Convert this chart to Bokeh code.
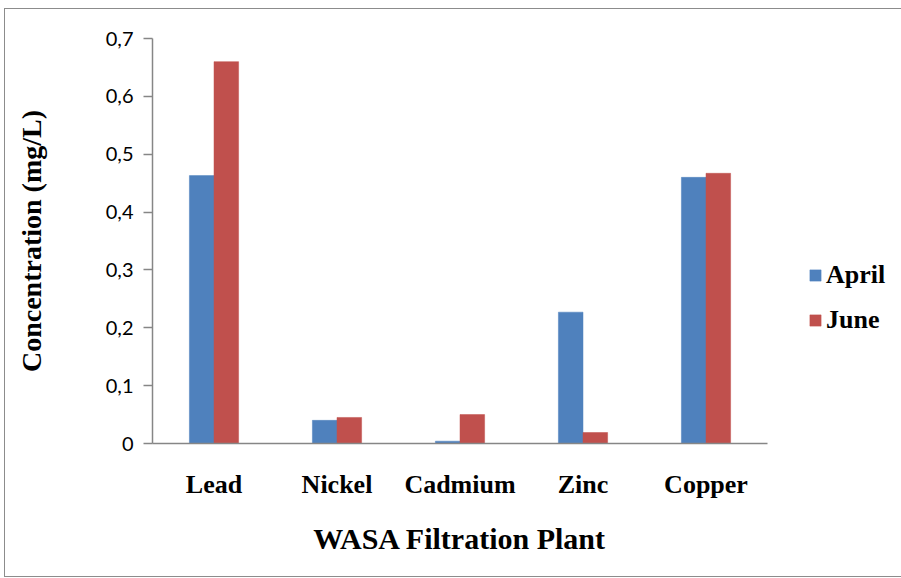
from bokeh.plotting import figure
from bokeh.models import ColumnDataSource, FactorRange, Range1d, FixedTicker, Legend, LegendItem
from bokeh.transform import dodge
from bokeh.embed import file_html
from bokeh.resources import INLINE

categories = ["Lead", "Nickel", "Cadmium", "Zinc", "Copper"]
april = [0.463, 0.040, 0.004, 0.227, 0.460]
june = [0.660, 0.045, 0.050, 0.019, 0.467]
y_ticks = [0.0, 0.1, 0.2, 0.3, 0.4, 0.5, 0.6, 0.7]
y_tick_labels = ["0", "0,1", "0,2", "0,3", "0,4", "0,5", "0,6", "0,7"]

source = ColumnDataSource(data=dict(cat=categories, april=april, june=june))

p = figure(
    x_range=FactorRange(*categories, range_padding=0),
    y_range=Range1d(0, 0.7),
    frame_width=615, frame_height=405,
    output_backend="svg", toolbar_location=None,
    min_border_left=147, min_border_right=133, min_border_top=29, min_border_bottom=133,
)
p.margin = (8, 0, 0, 4)
p.styles = {"border": "1px solid #8c8c8c"}
p.outline_line_color = None
p.xgrid.grid_line_color = None
p.ygrid.grid_line_color = None

r1 = p.vbar(x=dodge("cat", -0.1, range=p.x_range), top="april", width=0.2, source=source,
            fill_color="#4F81BD", line_color="#4F81BD", line_width=0.5)
r2 = p.vbar(x=dodge("cat", 0.1, range=p.x_range), top="june", width=0.2, source=source,
            fill_color="#C0504D", line_color="#C0504D", line_width=0.5)

# Y axis
p.yaxis.ticker = FixedTicker(ticks=y_ticks)
p.yaxis.major_label_overrides = {t: l for t, l in zip(y_ticks, y_tick_labels)}
p.yaxis.minor_tick_line_color = None
p.yaxis.major_tick_in = 0
p.yaxis.major_tick_out = 9
p.yaxis.major_tick_line_color = "#868686"
p.yaxis.axis_line_color = "#868686"
p.yaxis.axis_line_width = 1.5
p.yaxis.major_tick_line_width = 1.5
p.yaxis.major_label_text_font = "Lato"
p.yaxis.major_label_text_font_size = "20px"
p.yaxis.major_label_text_color = "#000000"
p.yaxis.major_label_standoff = 10
p.yaxis.axis_label = "Concentration (mg/L)"
p.yaxis.axis_label_text_font = "Liberation Serif"
p.yaxis.axis_label_text_font_style = "bold"
p.yaxis.axis_label_text_font_size = "28px"
p.yaxis.axis_label_text_color = "#000000"
p.yaxis.axis_label_standoff = 56

# X axis
p.xaxis.major_tick_line_color = None
p.xaxis.minor_tick_line_color = None
p.xaxis.axis_line_color = "#868686"
p.xaxis.axis_line_width = 1.5
p.xaxis.major_label_text_font = "Liberation Serif"
p.xaxis.major_label_text_font_style = "bold"
p.xaxis.major_label_text_font_size = "26px"
p.xaxis.major_label_text_color = "#000000"
p.xaxis.major_label_standoff = 20
p.xaxis.axis_label = "WASA Filtration Plant"
p.xaxis.axis_label_text_font = "Liberation Serif"
p.xaxis.axis_label_text_font_style = "bold"
p.xaxis.axis_label_text_font_size = "30px"
p.xaxis.axis_label_text_color = "#000000"
p.xaxis.axis_label_standoff = 20

legend = Legend(
    items=[LegendItem(label="April", renderers=[r1]), LegendItem(label="June", renderers=[r2])],
    location=(41, 108),
    border_line_color=None, background_fill_alpha=0,
    padding=0, margin=0, spacing=15,
    glyph_width=14, glyph_height=14, label_height=20,
    label_text_font="Liberation Serif", label_text_font_style="bold",
    label_text_font_size="26px", label_text_color="#000000", label_standoff=4,
)
p.add_layout(legend, "right")

open("out.html", "w").write(file_html(p, INLINE))
